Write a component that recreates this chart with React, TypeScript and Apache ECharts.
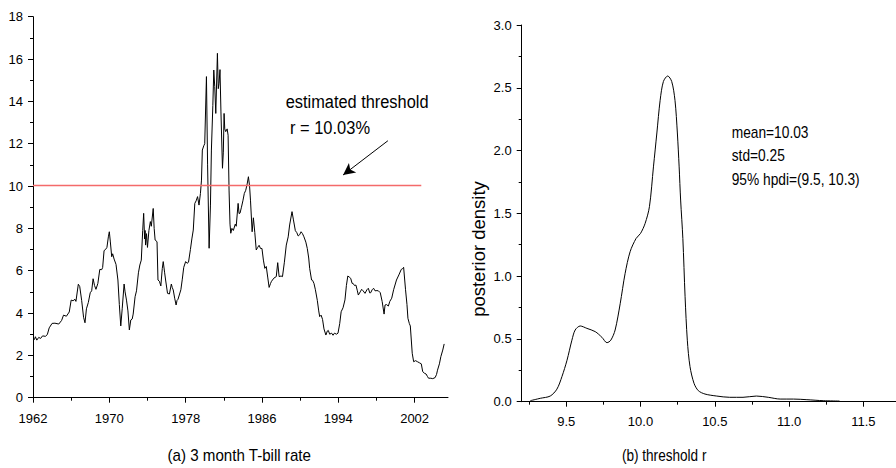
import React, { useEffect, useRef } from "react";
import * as echarts from "echarts";

// ---- Panel (a): 3 month T-bill rate ----
const years = [
  1962.0, 1962.15, 1962.25, 1962.4, 1962.6, 1962.8, 1963.0, 1963.3, 1963.5, 1963.7,
  1964.0, 1964.3, 1964.7, 1965.0, 1965.2, 1965.5, 1965.8, 1966.0, 1966.2, 1966.4,
  1966.5, 1966.75, 1966.9, 1967.1, 1967.3, 1967.45, 1967.6, 1967.8, 1968.0, 1968.15,
  1968.3, 1968.45, 1968.6, 1968.8, 1969.0, 1969.2, 1969.3, 1969.45, 1969.6, 1969.75,
  1969.9, 1970.0, 1970.1, 1970.25, 1970.35, 1970.5, 1970.7, 1970.9, 1971.05, 1971.2,
  1971.35, 1971.55, 1971.65, 1971.8, 1971.95, 1972.1, 1972.25, 1972.4, 1972.5, 1972.7,
  1972.85, 1973.05, 1973.2, 1973.35, 1973.5, 1973.6, 1973.7, 1973.75, 1973.8, 1973.9,
  1974.0, 1974.15, 1974.3, 1974.4, 1974.6, 1974.7, 1974.8, 1975.0, 1975.1, 1975.25,
  1975.4, 1975.55, 1975.65, 1975.8, 1975.9, 1976.1, 1976.3, 1976.5, 1976.6, 1976.7,
  1976.85, 1977.0, 1977.1, 1977.2, 1977.5, 1977.65, 1977.8, 1978.0, 1978.15, 1978.3,
  1978.5, 1978.65, 1978.8, 1978.96, 1979.1, 1979.25, 1979.4, 1979.55, 1979.66, 1979.75,
  1979.9, 1980.0, 1980.18, 1980.3, 1980.46, 1980.6, 1980.7, 1980.85, 1980.95, 1981.05,
  1981.16, 1981.33, 1981.42, 1981.5, 1981.6, 1981.7, 1981.86, 1981.95, 1982.03, 1982.1,
  1982.2, 1982.35, 1982.45, 1982.55, 1982.65, 1982.73, 1982.85, 1983.0, 1983.2, 1983.3,
  1983.5, 1983.6, 1983.7, 1983.85, 1984.0, 1984.15, 1984.3, 1984.45, 1984.58, 1984.7,
  1984.8, 1984.97, 1985.1, 1985.25, 1985.4, 1985.55, 1985.7, 1985.85, 1986.0, 1986.15,
  1986.3, 1986.45, 1986.6, 1986.75, 1986.9, 1987.0, 1987.25, 1987.5, 1987.65, 1987.8,
  1988.0, 1988.15, 1988.35, 1988.55, 1988.75, 1988.9, 1989.15, 1989.3, 1989.5, 1989.65,
  1989.8, 1989.95, 1990.1, 1990.25, 1990.4, 1990.6, 1990.75, 1990.9, 1991.0, 1991.2,
  1991.3, 1991.45, 1991.6, 1991.8, 1991.95, 1992.05, 1992.2, 1992.35, 1992.5, 1992.7,
  1992.85, 1992.95, 1993.1, 1993.3, 1993.45, 1993.6, 1993.8, 1993.97, 1994.15, 1994.3,
  1994.5, 1994.7, 1994.85, 1995.0, 1995.15, 1995.3, 1995.45, 1995.55, 1995.7, 1995.85,
  1996.0, 1996.1, 1996.3, 1996.45, 1996.6, 1996.8, 1997.0, 1997.15, 1997.3, 1997.4,
  1997.55, 1997.7, 1997.85, 1998.05, 1998.2, 1998.4, 1998.6, 1998.8, 1998.9, 1999.05,
  1999.25, 1999.4, 1999.6, 1999.8, 2000.1, 2000.35, 2000.6, 2000.75, 2000.85, 2001.05,
  2001.2, 2001.3, 2001.45, 2001.55, 2001.75, 2001.9, 2002.1, 2002.3, 2002.5, 2002.7,
  2002.85, 2003.05, 2003.2, 2003.35, 2003.46, 2003.7, 2003.9, 2004.15, 2004.3, 2004.4,
  2004.6, 2004.75, 2004.95, 2005.1,
];
const rates = [
  2.73, 2.75, 2.88, 2.72, 2.85, 2.8, 2.92, 2.9, 2.98, 3.3,
  3.51, 3.52, 3.48, 3.65, 3.9, 3.85, 4.05, 4.61, 4.58, 4.65,
  4.55, 5.36, 5.25, 4.6, 3.8, 3.54, 4.2, 4.5, 4.96, 5.05,
  5.62, 5.3, 5.12, 5.4, 6.06, 6.05, 6.15, 6.95, 7.0, 7.1,
  7.6, 7.84, 7.4, 6.66, 6.8, 6.55, 6.3, 5.56, 4.4, 3.39,
  4.2, 5.37, 5.0, 4.61, 4.1, 3.2, 3.67, 3.72, 3.95, 4.77,
  5.05, 5.9, 6.27, 6.5, 7.9, 8.71, 7.5, 7.9, 7.21, 7.75,
  7.1, 7.9, 8.32, 8.1, 8.94, 8.0, 7.45, 7.37, 5.56, 5.5,
  5.28, 6.1, 6.43, 5.9, 5.56, 4.93, 4.9, 5.37, 5.2, 5.09,
  4.7, 4.38, 4.6, 4.65, 5.1, 5.6, 6.16, 6.43, 6.35, 6.4,
  7.0, 7.5, 7.92, 9.18, 9.3, 9.5, 9.1, 9.65, 10.28, 11.7,
  11.9, 12.0, 15.17, 11.0, 7.06, 9.1, 11.7, 13.8, 15.48, 14.7,
  13.43, 16.27, 14.6, 14.85, 15.5, 13.5, 10.84, 11.6, 13.43, 12.7,
  12.57, 12.7, 12.4, 9.81, 8.2, 7.77, 8.0, 7.9, 8.2, 8.1,
  9.18, 8.7, 8.72, 9.0, 9.3, 9.65, 9.8, 10.1, 10.44, 10.0,
  9.3, 7.84, 8.5, 7.8, 6.98, 7.1, 7.2, 7.05, 7.05, 6.5,
  6.11, 6.2, 5.7, 5.21, 5.4, 5.5, 5.65, 5.72, 6.38, 5.72,
  5.75, 5.72, 6.4, 7.21, 7.6, 8.16, 8.79, 8.4, 7.89, 7.8,
  7.64, 7.7, 7.84, 7.75, 7.6, 7.35, 7.05, 6.6, 6.11, 5.56,
  5.55, 5.4, 5.1, 4.6, 4.1, 3.83, 3.9, 3.7, 3.25, 2.96,
  3.15, 3.18, 3.0, 3.05, 2.95, 3.05, 3.0, 3.05, 3.5, 4.06,
  4.25, 4.62, 5.3, 5.75, 5.7, 5.64, 5.4, 5.4, 5.3, 5.32,
  5.05, 4.85, 5.0, 5.12, 5.05, 4.93, 5.1, 5.17, 4.95, 4.96,
  5.1, 5.17, 5.05, 5.06, 5.05, 4.96, 4.54, 3.95, 4.38, 4.4,
  4.33, 4.55, 4.7, 5.1, 5.56, 5.8, 6.06, 6.1, 6.16, 5.1,
  4.4, 3.75, 3.5, 3.39, 2.1, 1.7, 1.75, 1.7, 1.65, 1.6,
  1.23, 1.15, 1.12, 1.0, 0.92, 0.92, 0.9, 0.95, 1.1, 1.3,
  1.6, 1.94, 2.25, 2.54,
];
const threshold = 10.03;
const thresholdSpan = [1962, 2002.7];
const arrowFrom = [1999.2, 12.14];
const arrowTo = [1994.5, 10.52];
const leftXMajor = [1962, 1970, 1978, 1986, 1994, 2002];
const leftXMinor = [1966, 1974, 1982, 1990, 1998];
const leftXRange = [1962, 2005.5];
const leftYRange = [0, 18];
const leftYStep = 2;

// ---- Panel (b): posterior density of threshold r ----
const densityR = [
  9.258, 9.325, 9.392, 9.437, 9.471, 9.505, 9.538, 9.56, 9.594, 9.639,
  9.695, 9.74, 9.774, 9.8, 9.829, 9.863, 9.896, 9.93, 9.97, 10.0,
  10.031, 10.06, 10.087, 10.11, 10.132, 10.154, 10.183, 10.21, 10.232, 10.248,
  10.26, 10.27, 10.285, 10.3, 10.315, 10.333, 10.36, 10.389, 10.434, 10.513,
  10.6, 10.69, 10.78, 10.86, 10.94, 11.03, 11.12, 11.23, 11.34,
];
const densityD = [
  0.008, 0.027, 0.045, 0.1, 0.2, 0.33, 0.49, 0.571, 0.603, 0.584,
  0.558, 0.513, 0.47, 0.49, 0.571, 0.78, 1.02, 1.195, 1.3, 1.34,
  1.42, 1.553, 1.87, 2.14, 2.4, 2.55, 2.594, 2.55, 2.4, 2.14,
  1.87, 1.606, 1.3, 0.836, 0.49, 0.28, 0.147, 0.088, 0.061, 0.045,
  0.035, 0.035, 0.045, 0.035, 0.021, 0.021, 0.016, 0.008, 0.005,
];
const rightXMajor = [9.5, 10.0, 10.5, 11.0, 11.5];
const rightXMinor = [9.25, 9.75, 10.25, 10.75, 11.25];
const rightXRange = [9.2, 11.72];
const rightYRange = [0, 3];
const rightYStep = 0.5;
const statsLines = ["mean=10.03", "std=0.25", "95% hpdi=(9.5, 10.3)"];

const FONT = "'Liberation Sans', Arial, Helvetica, sans-serif";
const BLACK = "#000";

function mainX(gridIndex: number, range: number[], major: number[], fmt: (v: number) => string, margin: number) {
  return {
    type: "value",
    gridIndex,
    position: "bottom",
    min: range[0],
    max: range[1],
    axisLine: { show: true, onZero: false, lineStyle: { color: BLACK, width: 1 } },
    axisTick: { show: true, customValues: major, length: 5, lineStyle: { color: BLACK, width: 1 } },
    axisLabel: {
      show: true,
      customValues: major,
      formatter: fmt,
      margin,
      fontSize: 13,
      color: BLACK,
      fontFamily: FONT,
    },
    splitLine: { show: false },
  };
}

function minorX(gridIndex: number, range: number[], minor: number[]) {
  return {
    type: "value",
    gridIndex,
    position: "bottom",
    min: range[0],
    max: range[1],
    axisLine: { show: false },
    axisTick: { show: true, customValues: minor, length: 3, lineStyle: { color: BLACK, width: 1 } },
    axisLabel: { show: false },
    splitLine: { show: false },
  };
}

function yAx(gridIndex: number, range: number[], step: number, fmt: (v: number) => string) {
  return {
    type: "value",
    gridIndex,
    min: range[0],
    max: range[1],
    interval: step,
    axisLine: { show: true, onZero: false, lineStyle: { color: BLACK, width: 1 } },
    axisTick: { show: true, length: 5, lineStyle: { color: BLACK, width: 1 } },
    minorTick: { show: true, splitNumber: 2, length: 3, lineStyle: { color: BLACK, width: 1 } },
    axisLabel: { formatter: fmt, margin: 10, fontSize: 13, color: BLACK, fontFamily: FONT },
    splitLine: { show: false },
    minorSplitLine: { show: false },
  };
}

function label(text: string, x: number, y: number, fontSize: number, scaleX: number, align = "left") {
  return {
    type: "text",
    x,
    y,
    scaleX,
    style: { text, fontSize, fontFamily: FONT, fill: BLACK, align, verticalAlign: "middle" },
  };
}

export default function App() {
  const ref = useRef<HTMLDivElement>(null);
  useEffect(() => {
    if (!ref.current) return;
    const chart = echarts.init(ref.current, undefined, { renderer: "svg" });
    const option = {
      animation: false,
      backgroundColor: "#fff",
      textStyle: { fontFamily: FONT },
      grid: [
        { left: 33, top: 16.7, width: 415, height: 381 },
        { left: 521.7, top: 25, width: 374.3, height: 376.7 },
      ],
      xAxis: [
        mainX(0, leftXRange, leftXMajor, (v: number) => String(v), 14),
        minorX(0, leftXRange, leftXMinor),
        mainX(1, rightXRange, rightXMajor, (v: number) => v.toFixed(1), 13),
        minorX(1, rightXRange, rightXMinor),
      ],
      yAxis: [
        yAx(0, leftYRange, leftYStep, (v: number) => String(v)),
        yAx(1, rightYRange, rightYStep, (v: number) => v.toFixed(1)),
      ],
      series: [
        {
          type: "line",
          xAxisIndex: 0,
          yAxisIndex: 0,
          data: years.map((y, i) => [y, rates[i]]),
          showSymbol: false,
          lineStyle: { color: BLACK, width: 1 },
          markLine: {
            silent: true,
            symbol: ["none", "arrow"],
            symbolSize: [9, 12],
            label: { show: false },
            lineStyle: { color: BLACK, width: 1, type: "solid" },
            data: [[{ coord: arrowFrom }, { coord: arrowTo }]],
          },
          z: 2,
        },
        {
          type: "line",
          xAxisIndex: 0,
          yAxisIndex: 0,
          data: thresholdSpan.map((x) => [x, threshold]),
          showSymbol: false,
          lineStyle: { color: "#f46a6a", width: 1.5 },
          z: 3,
        },
        {
          type: "line",
          xAxisIndex: 2,
          yAxisIndex: 1,
          data: densityR.map((r, i) => [r, densityD[i]]),
          showSymbol: false,
          smooth: 0.3,
          lineStyle: { color: BLACK, width: 1 },
        },
      ],
      graphic: [
        label("estimated threshold", 285.7, 102, 19, 0.862),
        label("r = 10.03%", 290, 128, 19, 0.866),
        ...statsLines.map((t, i) => label(t, 731.7, 131.7 + i * 23.6, 16, 0.86)),
        {
          type: "text",
          x: 478,
          y: 249,
          rotation: Math.PI / 2,
          style: { text: "posterior density", fontSize: 18.5, fontFamily: FONT, fill: BLACK, align: "center", verticalAlign: "middle" },
        },
        label("(a) 3 month T-bill rate", 239.2, 455, 17, 0.89, "center"),
        label("(b) threshold r", 664.2, 455, 17, 0.8, "center"),
      ],
    };
    chart.setOption(option as any);
    return () => chart.dispose();
  }, []);
  return (
    <div
      ref={ref}
      style={{ position: "absolute", left: 0, top: 0, width: 896, height: 468 }}
    />
  );
}
